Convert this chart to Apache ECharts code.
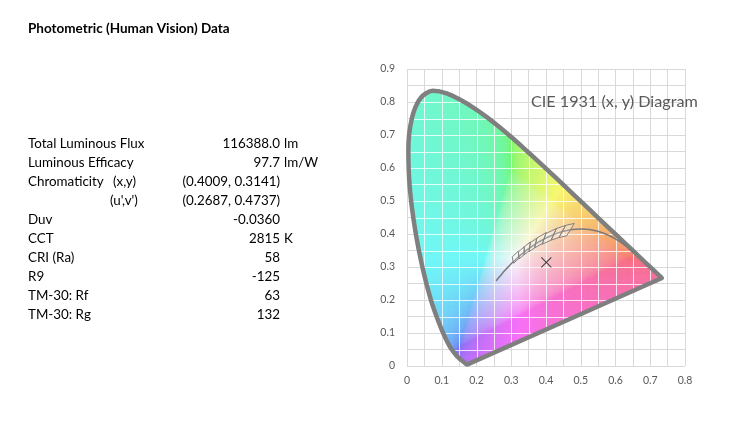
<!DOCTYPE html>
<html>
<head>
<meta charset="utf-8">
<script src="https://cdn.jsdelivr.net/npm/echarts@6/dist/echarts.min.js"></script>
<style>
  html, body { margin: 0; background: #fff; }
  #chart { width: 744px; height: 436px; }
</style>
</head>
<body>
<div id="chart"></div>
<script>
// spectral locus, CIE 1931 2deg, 380..700 nm
const locusX = [0.1741, 0.1738, 0.1733, 0.1726, 0.1714, 0.1689, 0.1644, 0.1566, 0.1440, 0.1241, 0.1096, 0.0913, 0.0687, 0.0454, 0.0235, 0.0082, 0.0039, 0.0139, 0.0389, 0.0743, 0.1142, 0.1547, 0.1929, 0.2296, 0.2658, 0.3016, 0.3373, 0.3731, 0.4087, 0.4441, 0.4788, 0.5125, 0.5448, 0.5752, 0.6029, 0.6270, 0.6658, 0.6915, 0.7079, 0.7190, 0.7260, 0.7300, 0.7334, 0.7347]
const locusY = [0.0050, 0.0049, 0.0048, 0.0048, 0.0051, 0.0069, 0.0109, 0.0177, 0.0297, 0.0578, 0.0868, 0.1327, 0.2007, 0.2950, 0.4127, 0.5384, 0.6548, 0.7502, 0.8120, 0.8338, 0.8262, 0.8059, 0.7816, 0.7543, 0.7243, 0.6923, 0.6589, 0.6245, 0.5896, 0.5547, 0.5202, 0.4866, 0.4544, 0.4242, 0.3965, 0.3725, 0.3340, 0.3083, 0.2920, 0.2809, 0.2740, 0.2700, 0.2666, 0.2653]

// planckian locus 1000K .. 20000K
const planckX = [0.6528, 0.6251, 0.5985, 0.5732, 0.5496, 0.5267, 0.5056, 0.4862, 0.4599, 0.4369, 0.4053, 0.3805, 0.3608, 0.3451, 0.3325, 0.3221, 0.3135, 0.3064, 0.2952, 0.2869, 0.2807, 0.2719, 0.2637, 0.2565]
const planckY = [0.3444, 0.3674, 0.3858, 0.3993, 0.4081, 0.4133, 0.4152, 0.4147, 0.4106, 0.4041, 0.3907, 0.3768, 0.3636, 0.3516, 0.3411, 0.3318, 0.3237, 0.3166, 0.3048, 0.2956, 0.2884, 0.2776, 0.2675, 0.2577]

// ANSI C78.377 quadrangles, 2700K .. 6500K
const ansiQuads = [
  [[0.4813, 0.4319], [0.4562, 0.4260], [0.4373, 0.3893], [0.4593, 0.3944]],
  [[0.4562, 0.4260], [0.4299, 0.4165], [0.4147, 0.3814], [0.4373, 0.3893]],
  [[0.4299, 0.4165], [0.3996, 0.4015], [0.3889, 0.3690], [0.4147, 0.3814]],
  [[0.4006, 0.4044], [0.3736, 0.3874], [0.3670, 0.3578], [0.3898, 0.3716]],
  [[0.3736, 0.3874], [0.3548, 0.3736], [0.3512, 0.3465], [0.3670, 0.3578]],
  [[0.3551, 0.3760], [0.3376, 0.3616], [0.3366, 0.3369], [0.3515, 0.3487]],
  [[0.3376, 0.3616], [0.3207, 0.3462], [0.3222, 0.3243], [0.3366, 0.3369]],
  [[0.3205, 0.3481], [0.3028, 0.3304], [0.3068, 0.3113], [0.3221, 0.3261]]
]

const samplePoint = [0.4009, 0.3141]

const rowLabels = ['Total Luminous Flux', 'Luminous Efficacy', 'Chromaticity', '', 'Duv', 'CCT', 'CRI (Ra)', 'R9', 'TM-30: Rf', 'TM-30: Rg']
const rowSubLabels = ['', '', '(x,y)', "(u',v')", '', '', '', '', '', '']
const rowValues = ['116388.0', '97.7', '(0.4009, 0.3141)', '(0.2687, 0.4737)', '-0.0360', '2815', '58', '-125', '63', '132']
const rowUnits = ['lm', 'lm/W', '', '', '', 'K', '', '', '', '']

const FONT = 'Lato, "Open Sans", sans-serif'
const GRID = '#d9d9d9'
const TEXT = '#595959'

const locus = locusX.map((x, i) => [x, locusY[i]])

function insideLocus(x, y) {
  let inside = false
  for (let i = 0, j = locus.length - 1; i < locus.length; j = i++) {
    const [xi, yi] = locus[i], [xj, yj] = locus[j]
    if ((yi > y) !== (yj > y) && x < (xj - xi) * (y - yi) / (yj - yi) + xi) inside = !inside
  }
  return inside
}

// where a vertical (axis 0) or horizontal (axis 1) line crosses the locus
function crossings(axis, v) {
  const hits = []
  for (let i = 0, j = locus.length - 1; i < locus.length; j = i++) {
    const a = locus[j], b = locus[i]
    if ((a[axis] > v) !== (b[axis] > v)) {
      const t = (v - a[axis]) / (b[axis] - a[axis])
      hits.push(a[1 - axis] + t * (b[1 - axis] - a[1 - axis]))
    }
  }
  return hits.length >= 2 ? [Math.min(...hits), Math.max(...hits)] : null
}

function chromaColor(x, y) {
  const X = x / y, Z = (1 - x - y) / y
  let r = 3.2406 * X - 1.5372 - 0.4986 * Z
  let g = -0.9689 * X + 1.8758 + 0.0415 * Z
  let b = 0.0557 * X - 0.2040 + 1.0570 * Z
  const m = Math.min(r, g, b, 0)
  r -= m; g -= m; b -= m
  const mx = Math.max(r, g, b)
  const gam = c => c <= 0.0031308 ? 12.92 * c : 1.055 * Math.pow(c, 1 / 2.4) - 0.055
  const out = c => Math.round(255 * (0.44 + 0.53 * gam(c / mx)))
  return `rgb(${out(r)},${out(g)},${out(b)})`
}

function renderFill(params, api) {
  const step = 0.005
  const size = api.size([step, step])
  const children = []
  for (let x = 0; x < 0.76; x += step) {
    for (let y = 0; y < 0.85; y += step) {
      const cx = x + step / 2, cy = y + step / 2
      if (!insideLocus(cx, cy)) continue
      const p = api.coord([x, y + step])
      children.push({
        type: 'rect',
        shape: { x: p[0], y: p[1], width: size[0] + 0.6, height: size[1] + 0.6 },
        style: { fill: chromaColor(cx, cy) },
        silent: true
      })
    }
  }
  // white grid lines over the coloured area
  for (let k = 1; k <= 17; k++) {
    const v = k * 0.05
    const cv = crossings(0, v)
    if (cv && v < 0.8) {
      const a = api.coord([v, cv[0]]), b = api.coord([v, cv[1]])
      const px = Math.round(a[0]) + 0.5
      children.push({ type: 'line', shape: { x1: px, y1: a[1], x2: px, y2: b[1] }, style: { stroke: 'rgba(255,255,255,0.8)', lineWidth: 1 }, silent: true })
    }
    const ch = crossings(1, v)
    if (ch) {
      const a = api.coord([ch[0], v]), b = api.coord([ch[1], v])
      const py = Math.round(a[1]) + 0.5
      children.push({ type: 'line', shape: { x1: a[0], y1: py, x2: b[0], y2: py }, style: { stroke: 'rgba(255,255,255,0.8)', lineWidth: 1 }, silent: true })
    }
  }
  return { type: 'group', children }
}

function renderQuad(params, api) {
  const q = ansiQuads[params.dataIndex]
  return {
    type: 'polygon',
    shape: { points: q.map(pt => api.coord(pt)) },
    style: { fill: 'rgba(255,255,255,0.25)', stroke: '#808080', lineWidth: 1 }
  }
}

function renderCross(params, api) {
  const p = api.coord([api.value(0), api.value(1)])
  const s = 5
  const st = { stroke: '#404040', lineWidth: 1.1 }
  return {
    type: 'group',
    children: [
      { type: 'line', shape: { x1: p[0] - s, y1: p[1] - s, x2: p[0] + s, y2: p[1] + s }, style: st },
      { type: 'line', shape: { x1: p[0] - s, y1: p[1] + s, x2: p[0] + s, y2: p[1] - s }, style: st }
    ]
  }
}

const tableTexts = [{
  type: 'text', x: 28, y: 29,
  style: { text: 'Photometric (Human Vision) Data', fontFamily: FONT, fontSize: 13.5, fontWeight: 'bold', fill: '#000', verticalAlign: 'middle' }
}]
rowLabels.forEach((lab, i) => {
  const y = 143.3 + i * 19
  const base = { fontFamily: FONT, fontSize: 13.4, fill: '#000', verticalAlign: 'middle' }
  if (lab) tableTexts.push({ type: 'text', x: 28, y, style: Object.assign({ text: lab, align: 'left' }, base) })
  if (rowSubLabels[i]) tableTexts.push({ type: 'text', x: i === 2 ? 113 : 110, y, style: Object.assign({ text: rowSubLabels[i], align: 'left' }, base) })
  tableTexts.push({ type: 'text', x: 280, y, style: Object.assign({ text: rowValues[i], align: 'right' }, base) })
  if (rowUnits[i]) tableTexts.push({ type: 'text', x: 284, y, style: Object.assign({ text: rowUnits[i], align: 'left' }, base) })
})
tableTexts.push({
  type: 'text', x: 531, y: 102,
  style: { text: 'CIE 1931 (x, y) Diagram', fontFamily: FONT, fontSize: 16.2, fill: TEXT, verticalAlign: 'middle' },
  z: 100
})

const chart = echarts.init(document.getElementById('chart'))
const fmt = v => String(+v.toFixed(2))

chart.setOption({
  animation: false,
  grid: { left: 407, right: 59, top: 69, bottom: 70 },
  graphic: tableTexts,
  xAxis: {
    type: 'value', min: 0, max: 0.8, interval: 0.1,
    axisLine: { show: false }, axisTick: { show: false },
    axisLabel: { color: TEXT, fontFamily: FONT, fontSize: 10.5, margin: 9, formatter: fmt },
    splitLine: { lineStyle: { color: GRID } },
    minorTick: { show: false, splitNumber: 2 },
    minorSplitLine: { show: true, lineStyle: { color: GRID } }
  },
  yAxis: {
    type: 'value', min: 0, max: 0.9, interval: 0.1,
    axisLine: { show: false }, axisTick: { show: false },
    axisLabel: { color: TEXT, fontFamily: FONT, fontSize: 10.5, margin: 12, formatter: fmt },
    splitLine: { lineStyle: { color: GRID } },
    minorTick: { show: false, splitNumber: 2 },
    minorSplitLine: { show: true, lineStyle: { color: GRID } }
  },
  series: [
    { type: 'custom', renderItem: renderFill, data: [[0.4, 0.4]], silent: true, z: 1 },
    {
      type: 'line', data: locus.concat([locus[0]]), symbol: 'none', smooth: 0.3, z: 3,
      lineStyle: { color: '#7f7f7f', width: 4.5, join: 'round', cap: 'round' }
    },
    {
      type: 'line', data: planckX.map((x, i) => [x, planckY[i]]), symbol: 'none', smooth: true, z: 3,
      lineStyle: { color: '#7a7a7a', width: 1.5 }
    },
    { type: 'custom', renderItem: renderQuad, data: ansiQuads.map(q => q[0]), z: 4 },
    { type: 'custom', renderItem: renderCross, data: [samplePoint], z: 5 }
  ]
})
</script>
</body>
</html>
